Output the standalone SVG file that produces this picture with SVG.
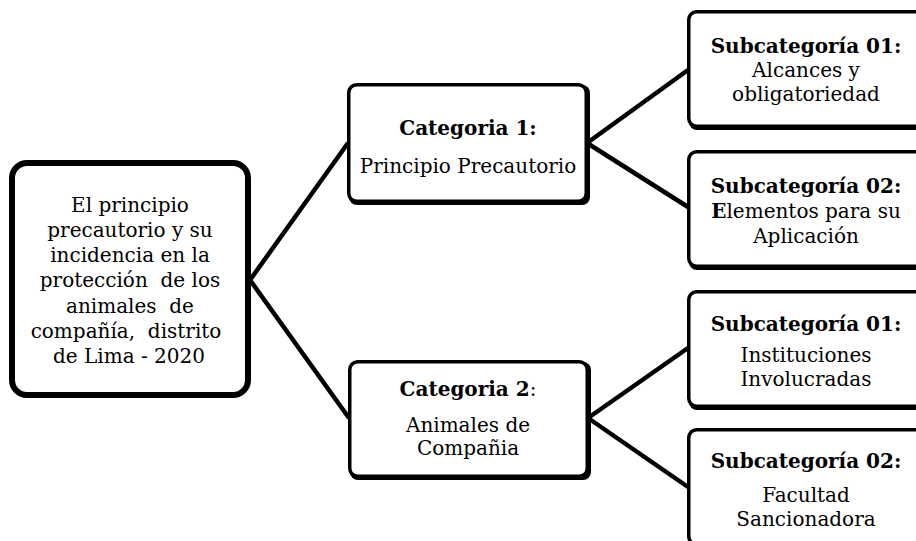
<svg xmlns="http://www.w3.org/2000/svg" width="916" height="541" viewBox="0 0 916 541">
<style>
.t{font-family:"DejaVu Serif","Liberation Serif",serif;font-size:20px;fill:#000;text-anchor:middle;white-space:pre}
.b{font-weight:bold}
.box{fill:#fff;stroke:#000;stroke-width:3.5}
.sh{fill:#000}
.main{fill:#fff;stroke:#000;stroke-width:6}
.con{stroke:#000;stroke-width:4.5;fill:none;stroke-linecap:butt}
</style>
<rect width="916" height="541" fill="#fff"/>
<g id="connectors">
<line class="con" x1="250" y1="280" x2="348" y2="143"/>
<line class="con" x1="250" y1="280" x2="349" y2="418"/>
<line class="con" x1="587" y1="143" x2="688" y2="70"/>
<line class="con" x1="587" y1="143" x2="688" y2="207"/>
<line class="con" x1="588" y1="418" x2="688" y2="348"/>
<line class="con" x1="588" y1="418" x2="688" y2="487"/>
</g>
<g id="root">
<rect class="main" x="12" y="163" width="236" height="232" rx="15"/>
<text class="t" x="130" y="212">El principio</text>
<text class="t" x="130" y="237">precautorio y su</text>
<text class="t" x="130" y="262">incidencia en la</text>
<text class="t" x="130" y="287">protección  de los</text>
<text class="t" x="130" y="313">animales  de</text>
<text class="t" x="126" y="338">compañía,  distrito</text>
<text class="t" x="129" y="363">de Lima - 2020</text>
</g>
<g id="cat1">
<rect class="sh" x="349" y="85" width="241" height="120" rx="8"/>
<rect class="box" x="348.75" y="84.75" width="237.5" height="116.5" rx="8"/>
<text class="t" x="468" y="135"><tspan class="b">Categoria 1:</tspan></text>
<text class="t" x="468" y="173">Principio Precautorio</text>
</g>
<g id="cat2">
<rect class="sh" x="350" y="362" width="241" height="118" rx="8"/>
<rect class="box" x="349.75" y="361.75" width="237.5" height="114.5" rx="8"/>
<text class="t" x="468" y="396"><tspan class="b">Categoria 2</tspan>:</text>
<text class="t" x="468" y="432">Animales de</text>
<text class="t" x="468" y="455">Compañia</text>
</g>
<g id="sub1">
<rect class="sh" x="689" y="12" width="240" height="118" rx="8"/>
<rect class="box" x="688.75" y="11.75" width="236" height="114.5" rx="8"/>
<text class="t b" x="806" y="53">Subcategoría 01:</text>
<text class="t" x="806" y="77">Alcances y</text>
<text class="t" x="806" y="101">obligatoriedad</text>
</g>
<g id="sub2">
<rect class="sh" x="689" y="152" width="240" height="118" rx="8"/>
<rect class="box" x="688.75" y="151.75" width="236" height="114.5" rx="8"/>
<text class="t b" x="806" y="193">Subcategoría 02:</text>
<text class="t" x="806" y="218"><tspan class="b">E</tspan>lementos para su</text>
<text class="t" x="806" y="243">Aplicación</text>
</g>
<g id="sub3">
<rect class="sh" x="689" y="292" width="240" height="118" rx="8"/>
<rect class="box" x="688.75" y="291.75" width="236" height="114.5" rx="8"/>
<text class="t b" x="806" y="331">Subcategoría 01:</text>
<text class="t" x="806" y="362">Instituciones</text>
<text class="t" x="806" y="386">Involucradas</text>
</g>
<g id="sub4">
<rect class="sh" x="689" y="430" width="240" height="118" rx="8"/>
<rect class="box" x="688.75" y="429.75" width="236" height="114.5" rx="8"/>
<text class="t b" x="806" y="468">Subcategoría 02:</text>
<text class="t" x="806" y="502">Facultad</text>
<text class="t" x="806" y="526">Sancionadora</text>
</g>
</svg>
